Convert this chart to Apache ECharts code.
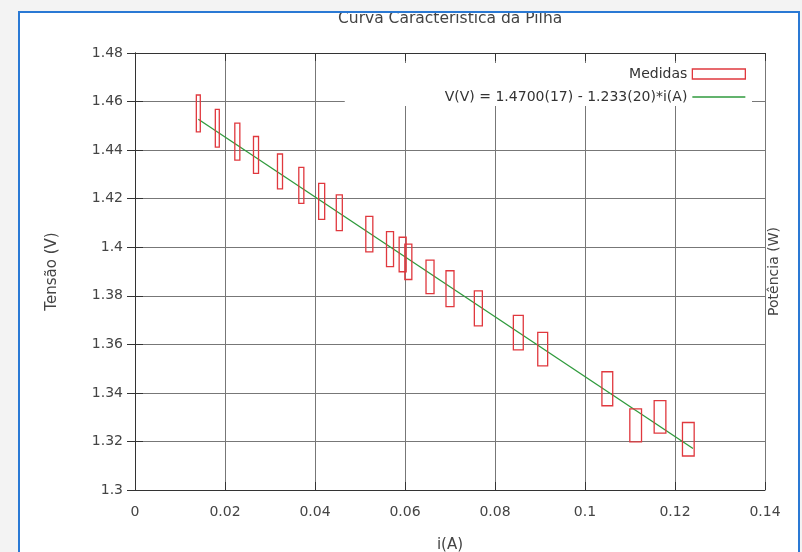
<!DOCTYPE html>
<html>
<head>
<meta charset="utf-8">
<script src="https://cdn.jsdelivr.net/npm/echarts@6/dist/echarts.min.js"></script>
<style>
  html, body { margin: 0; padding: 0; background: #f3f3f3; }
  #paper { position: absolute; left: 19px; top: 12px; width: 779px; height: 560px; background: #fff; }
  #frame { position: absolute; left: 18px; top: 11px; width: 778px; height: 560px;
           border: 2px solid #2a79d4; border-bottom: none; pointer-events: none; z-index: 5; }
  #chart { position: absolute; left: 0; top: 0; width: 802px; height: 552px; }
</style>
</head>
<body>
<div id="paper"></div>
<div id="chart"></div>
<div id="frame"></div>
<script>
// measured current (A) and voltage (V), with the half widths of each error box
const current = [0.01407, 0.01829, 0.02274, 0.02689, 0.03222, 0.03696, 0.04148, 0.0454, 0.05207, 0.05667, 0.05948,
  0.06074, 0.06556, 0.0700, 0.0763, 0.08518, 0.0906, 0.10496, 0.11126, 0.11667, 0.12296];
const voltage = [1.4551, 1.4490, 1.4435, 1.4380, 1.4312, 1.4255, 1.4189, 1.4142, 1.4054, 1.3992, 1.3970,
  1.3940, 1.3878, 1.3829, 1.3748, 1.3648, 1.3580, 1.3417, 1.3266, 1.3301, 1.3209];
const currentErr = [0.00044, 0.00044, 0.00056, 0.00056, 0.00056, 0.00056, 0.00067, 0.00067, 0.00078, 0.00078, 0.00078,
  0.00078, 0.00089, 0.00089, 0.00089, 0.0011, 0.0011, 0.0012, 0.0013, 0.0013, 0.0013];
const voltageErr = [0.0076, 0.0078, 0.0076, 0.0076, 0.0072, 0.0074, 0.0074, 0.0074, 0.0073, 0.0072, 0.0071,
  0.0073, 0.0069, 0.0074, 0.0072, 0.0071, 0.0069, 0.0070, 0.0068, 0.0067, 0.0069];

// fitted line endpoints, V(V) = 1.4700 - 1.233*i(A)
const fitCurrent = [0.01407, 0.1240];
const fitVoltage = [1.4527, 1.3171];

const fitName = "V(V) = 1.4700(17) - 1.233(20)*i(A)";
const font = "DejaVu Sans";
const red = "#e0383e";
const green = "#2f9a3c";

const chart = echarts.init(document.getElementById("chart"));

const boxes = current.map((x, i) => [x, voltage[i], currentErr[i], voltageErr[i]]);
const fit = fitCurrent.map((x, i) => [x, fitVoltage[i]]);

const axisLine = { lineStyle: { color: "#333", width: 1 } };
const tick = { inside: true, length: 8, lineStyle: { color: "#333" } };
const split = { show: true, lineStyle: { color: "#777", width: 1 } };

chart.setOption({
  backgroundColor: "transparent",
  animation: false,
  title: {
    text: "Curva Caracteristica da Pilha",
    left: 333, top: 6,
    textStyle: { fontFamily: font, fontSize: 15.5, fontWeight: "normal", color: "#444" }
  },
  legend: {
    orient: "vertical",
    right: 50, top: 63,
    align: "right",
    itemWidth: 53, itemHeight: 10, itemGap: 9,
    padding: [4, 6, 2, 100],
    backgroundColor: "#fff",
    textStyle: { fontFamily: font, fontSize: 14, color: "#333" },
    data: [
      { name: "Medidas", icon: "rect", itemStyle: { color: "transparent", borderColor: red, borderWidth: 1.3 } },
      { name: fitName, icon: "path://M0,0H53V1.3H0Z", itemStyle: { color: green, borderWidth: 0 } }
    ]
  },
  grid: { left: 135, right: 37, top: 53, bottom: 62, outerBoundsMode: "none", containLabel: false },
  xAxis: [
    {
      type: "value", min: 0, max: 0.14, interval: 0.02,
      name: "i(A)", nameLocation: "middle", nameGap: 48,
      nameTextStyle: { fontFamily: font, fontSize: 15, color: "#444" },
      axisLine, axisTick: tick, splitLine: split,
      axisLabel: { fontFamily: font, fontSize: 14, color: "#444", margin: 15,
        formatter: (v) => String(+v.toFixed(2)) }
    },
    {
      type: "value", position: "top", min: 0, max: 0.14, interval: 0.02,
      axisLine, axisTick: tick, splitLine: { show: false }, axisLabel: { show: false }
    }
  ],
  yAxis: [
    {
      type: "value", min: 1.3, max: 1.48, interval: 0.02,
      name: "Tensão (V)", nameLocation: "middle", nameGap: 75, nameRotate: 90,
      nameTextStyle: { fontFamily: font, fontSize: 15, color: "#444" },
      axisLine, axisTick: tick, splitLine: split,
      axisLabel: { fontFamily: font, fontSize: 14, color: "#444", margin: 12,
        formatter: (v) => String(+v.toFixed(2)) }
    },
    {
      type: "value", position: "right", min: 1.3, max: 1.48, interval: 0.02,
      name: "Potência (W)", nameLocation: "middle", nameGap: 2, nameRotate: 90,
      nameTextStyle: { fontFamily: font, fontSize: 14, color: "#444", verticalAlign: "top" },
      axisLine, axisTick: tick, splitLine: { show: false }, axisLabel: { show: false }
    }
  ],
  series: [
    {
      name: "Medidas",
      type: "custom",
      xAxisIndex: 0, yAxisIndex: 0,
      data: boxes,
      z: 3,
      renderItem: (params, api) => {
        const x = api.value(0), v = api.value(1), dx = api.value(2), dv = api.value(3);
        const p1 = api.coord([x - dx, v + dv]);
        const p2 = api.coord([x + dx, v - dv]);
        return {
          type: "rect",
          shape: { x: p1[0], y: p1[1], width: p2[0] - p1[0], height: p2[1] - p1[1] },
          style: { fill: "none", stroke: red, lineWidth: 1.3 }
        };
      }
    },
    {
      name: fitName,
      type: "line",
      xAxisIndex: 0, yAxisIndex: 0,
      data: fit,
      symbol: "none",
      z: 2,
      lineStyle: { color: green, width: 1.3 },
      itemStyle: { color: green }
    }
  ]
});
</script>
</body>
</html>
